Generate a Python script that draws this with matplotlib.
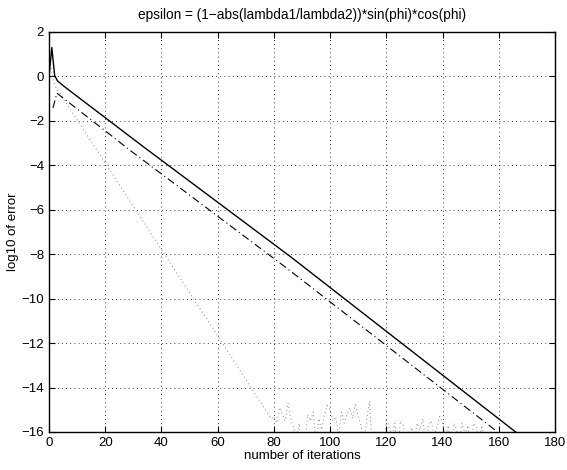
import matplotlib
matplotlib.use("Agg")
import matplotlib.pyplot as plt

plt.rcParams['font.family'] = ['Liberation Sans', 'DejaVu Sans']

# Solid line vertices (iteration, log10 error)
solid_x = [0, 1, 2, 3, 5.7, 35, 40, 86, 166]
solid_y = [0.0, 1.3, 0.05, -0.2, -0.48, -3.3, -3.77, -8.12, -16.0]

# Dash-dot line vertices
dash_x = [1.4, 2.8, 28.8, 84.6, 159.5]
dash_y = [-1.42, -0.75, -3.32, -8.63, -15.99]

# Dotted line: steep decay then noise floor
dot_x = [0, 1, 2, 20, 61, 79]
dot_y = [0.9, 0.2, -0.4, -3.9, -11.87, -15.4]
noise_start = 80
noise_y = [
    -15.3, -15.6, -14.9, -15.2, -15.5, -14.7, -15.4, -15.8, -16.3, -15.6,
    -17.0, -16.4, -15.2, -15.5, -15.1, -16.6, -15.4, -15.9, -15.2, -14.8,
    -15.0, -15.5, -15.3, -16.2, -15.1, -15.6, -15.2, -14.9, -15.4, -14.7,
    -15.3, -15.7, -16.5, -15.5, -14.6, -16.8, -17.2, -16.1, -16.6, -17.0,
    -15.4, -15.8, -16.2, -15.6, -17.1, -15.5, -15.7, -16.4, -16.9, -15.8,
    -16.3, -15.6, -15.9, -15.4, -16.6, -15.7, -15.5, -16.2, -15.8, -15.3,
    -15.6, -16.3, -15.7, -16.8, -15.6, -15.9, -16.4, -15.6, -16.1, -15.7,
    -16.7, -15.6, -15.8, -16.5, -15.7, -16.9, -17.3, -16.6, -17.5,
]
noise_x = list(range(noise_start, noise_start + len(noise_y)))

xticks = [0, 20, 40, 60, 80, 100, 120, 140, 160, 180]
yticks = [2, 0, -2, -4, -6, -8, -10, -12, -14, -16]

fig = plt.figure(figsize=(5.67, 4.70), dpi=100)
ax = fig.add_axes([49/567, 1-432/470, (555-49)/567, 400/470])

ax.plot(dot_x + noise_x, dot_y + noise_y, linestyle=(0, (1, 3)), color='#858585', lw=0.7)
ax.plot(dash_x, dash_y, linestyle=(0, (7, 3, 1, 3)), color='black', lw=0.8)
ax.plot(solid_x, solid_y, linestyle='-', color='black', lw=1.0)

ax.set_xlim(0, 180)
ax.set_ylim(-16, 2)
ax.set_xticks(xticks)
ax.set_yticks(yticks)
ax.set_xticklabels([str(v) for v in xticks])
ax.set_yticklabels([str(v).replace('-', '\u2212') for v in yticks])
ax.grid(True, linestyle=(0, (1, 4)), color='black', lw=0.6)
ax.tick_params(direction='in', top=True, right=True, labelsize=9.5, length=4, width=0.8)
for s in ax.spines.values():
    s.set_linewidth(1.0)

ax.set_xlabel('number of iterations', fontsize=9.5, labelpad=1)
ax.set_ylabel('log10 of error', fontsize=9.5, labelpad=2)
ax.set_title('epsilon = (1\u2212abs(lambda1/lambda2))*sin(phi)*cos(phi)', fontsize=9.8, pad=9)

fig.savefig('out.png', dpi=100)
